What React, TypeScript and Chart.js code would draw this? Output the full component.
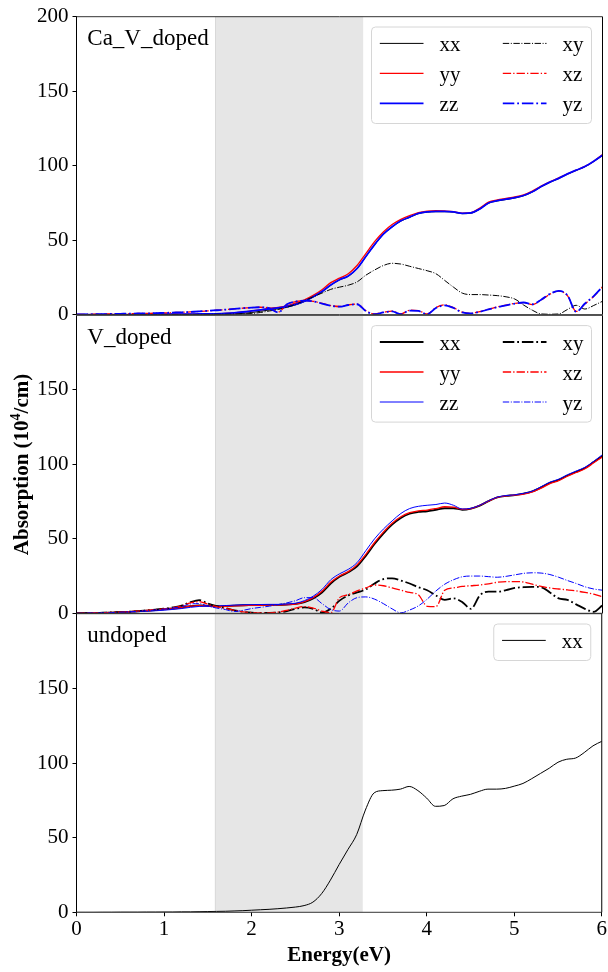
import React, { useEffect, useRef } from 'react';
import { Chart, registerables } from 'chart.js';
Chart.register(...registerables);

// ---------- data ----------
const energy = [
  0.0, 0.1, 0.2, 0.3, 0.4, 0.5, 0.6, 0.7, 0.8, 0.9,
  1.0, 1.1, 1.2, 1.3, 1.4, 1.5, 1.6, 1.7, 1.8, 1.9,
  2.0, 2.1, 2.2, 2.3, 2.4, 2.5, 2.6, 2.7, 2.8, 2.9,
  3.0, 3.1, 3.2, 3.3, 3.4, 3.5, 3.6, 3.7, 3.8, 3.9,
  4.0, 4.1, 4.2, 4.3, 4.4, 4.5, 4.6, 4.7, 4.8, 4.9,
  5.0, 5.1, 5.2, 5.3, 5.4, 5.5, 5.6, 5.7, 5.8, 5.9,
  6.0,
];

const bandStart = 1.58;
const bandEnd = 3.27;
const xTicks = [0, 1, 2, 3, 4, 5, 6];
const yTicks = [0, 50, 100, 150, 200];

// Ca_V_doped
const caV_xx = [
  0, 0, 0, 0, 0, 0, 0, 0, 0, 0,
  0, 0, 0.1, 0.1, 0.1, 0.2, 0.2, 0.3, 0.5, 0.9,
  1.5, 2.3, 3.2, 4, 5, 6.6, 8.8, 11.8, 15.3, 19.8,
  23.3, 25.8, 30.8, 38.8, 46.8, 53.8, 58.8, 62.8, 65.3, 67.8,
  68.8, 69.1, 69.1, 68.8, 67.8, 68.1, 70.8, 74.8, 76.3, 77.3,
  78.3, 79.8, 82.3, 85.8, 88.8, 91.3, 94.3, 96.8, 99.3, 102.8,
  106.8,
];
const caV_yy = [
  0, 0, 0, 0, 0, 0.1, 0.1, 0.1, 0.2, 0.2,
  0.3, 0.3, 0.4, 0.4, 0.5, 0.5, 0.6, 0.8, 1.2, 1.8,
  2.6, 3.3, 4.2, 4.9, 6, 7.8, 10, 13, 16.8, 21.5,
  24.5, 27.5, 33, 41, 49, 55.5, 60.5, 64, 66.5, 68.5,
  69.5, 69.8, 69.6, 69.2, 68.2, 68.5, 71.5, 75.5, 77, 78,
  79, 80.5, 83, 86.3, 89.2, 91.8, 94.5, 97, 99.5, 103,
  107.5,
];
const caV_zz = [
  0, 0, 0, 0, 0, 0.1, 0.1, 0.1, 0.2, 0.2,
  0.3, 0.3, 0.4, 0.4, 0.5, 0.5, 0.6, 0.8, 1.2, 1.8,
  2.5, 3.2, 4, 4.6, 5.5, 7, 9, 12, 15.5, 20,
  23.5, 26, 31, 39, 47, 54, 59, 63, 65.5, 68,
  69, 69.3, 69.3, 69, 68, 68.3, 71, 75, 76.5, 77.5,
  78.5, 80, 82.5, 86, 89, 91.5, 94.5, 97, 99.5, 103,
  107,
];
const caV_xy = [
  0, 0, 0, 0, 0, 0, 0, 0, 0.1, 0.1,
  0.1, 0.1, 0.1, 0.2, 0.2, 0.2, 0.3, 0.3, 0.4, 0.5,
  0.8, 1.5, 2.5, 3.5, 5, 7, 9.5, 12, 14.5, 17,
  18.5, 19.8, 22, 26.5, 30, 33, 34.5, 34, 32.5, 31,
  29.5, 27.5, 23, 18.5, 14.5, 13.5, 13.5, 13.2, 12.8, 12,
  10.5, 6.5, 3, 0.5, 0.3, 0.5, 3.5, 6.3, 3.8, 6.2,
  9,
];
const caV_xz = [
  0.2, 0.25, 0.3, 0.4, 0.5, 0.6, 0.7, 0.8, 0.9, 1.0,
  1.2, 1.4, 1.6, 1.9, 2.2, 2.6, 3.0, 3.4, 3.9, 4.4,
  4.8, 5.0, 4.5, 1.8, 6.8, 8.7, 9.4, 9.0, 7.6, 6.1,
  5.5, 6.6, 7.2, 2.7, 0.5, 1.6, 2.4, 0.5, 3.0, 2.7,
  0.5, 4.8, 6.6, 4.7, 1.7, 0.9, 2.1, 3.6, 5.2, 6.4,
  7.6, 8.1, 6.8, 9.8, 13.8, 15.8, 12.8, 2.2, 7.3, 12.3,
  18.6,
];
const caV_yz = [
  0.2, 0.25, 0.3, 0.4, 0.5, 0.6, 0.7, 0.8, 0.9, 1.0,
  1.2, 1.4, 1.6, 1.9, 2.2, 2.6, 3.0, 3.4, 3.9, 4.4,
  4.8, 5.0, 4.3, 1.5, 7.0, 8.8, 9.5, 9.0, 7.5, 6.0,
  5.4, 6.5, 7.0, 2.5, 0.3, 1.5, 2.2, 0.3, 2.8, 2.5,
  0.3, 4.5, 6.3, 4.5, 1.5, 0.8, 2.0, 3.5, 5.0, 6.3,
  7.5, 8.2, 7.0, 10.0, 14.0, 16.0, 13.0, 2.0, 7.5, 12.5,
  18.8,
];

// V_doped
const v_xx = [
  0, 0.1, 0.2, 0.3, 0.5, 0.7, 1, 1.3, 1.7, 2.1,
  2.6, 3.2, 3.9, 4.8, 5.3, 5, 4.7, 4.9, 5.2, 5.4,
  5.5, 5.6, 5.7, 5.7, 5.9, 6.3, 7.5, 10, 14, 20,
  24.5, 27.5, 31.5, 38.5, 46.5, 53.5, 59.5, 64, 66.8, 68,
  68.5, 69.5, 70.5, 70.5, 69.5, 70.3, 72.3, 75.3, 77.8, 78.8,
  79.3, 80.3, 81.8, 84.5, 87.5, 89.5, 92.5, 95, 97.5, 101.5,
  105.5,
];
const v_yy = [
  0, 0.1, 0.2, 0.3, 0.5, 0.7, 1, 1.3, 1.7, 2.1,
  2.6, 3.2, 3.9, 4.8, 5.2, 4.8, 4.5, 4.7, 5, 5.2,
  5.3, 5.4, 5.5, 5.6, 5.8, 6.2, 7.8, 10.5, 14.8, 20.8,
  25, 28, 32.5, 39.5, 47.5, 54.5, 60.5, 64.8, 67.5, 68.8,
  69.3, 70.3, 71.5, 71.2, 69.8, 70.3, 72.5, 75.3, 77.8, 78.8,
  79.3, 80, 81.5, 84, 87, 89, 92, 94.5, 97, 101,
  105,
];
const v_zz = [
  0, 0.1, 0.2, 0.3, 0.5, 0.7, 0.9, 1.1, 1.4, 1.7,
  2.1, 2.6, 3.2, 4, 4.6, 4.8, 4.9, 5.2, 5.5, 5.7,
  5.8, 5.9, 6, 6, 6.2, 6.8, 8.5, 11.5, 16, 22.5,
  26.5, 29.5, 34, 42, 50, 56.5, 62, 67, 70.3, 71.8,
  72.5, 73, 74, 72.5, 70, 70.5, 72.5, 75.5, 78, 79,
  79.5, 80.5, 82, 85, 88, 90, 93, 95.5, 98, 102,
  106.5,
];
const v_xy = [
  0, 0.1, 0.2, 0.4, 0.6, 0.8, 1.1, 1.5, 2, 2.5,
  3.1, 4, 5.2, 7.5, 8.8, 6.5, 4.8, 3.5, 2, 1,
  0.5, 0.3, 0.3, 0.5, 1.5, 3, 4, 3, 0.5, 3,
  8.5, 12, 14, 16, 20, 23, 23.5, 22, 20, 17.5,
  15.5, 12, 9, 10, 7.5, 3, 12, 14.5, 14.5, 15.5,
  17, 17.5, 17.8, 17.5, 14, 10, 9, 6, 3, 1,
  5.5,
];
const v_xz = [
  0, 0.1, 0.2, 0.4, 0.6, 0.8, 1.1, 1.5, 2, 2.5,
  3, 3.8, 5, 7, 7.8, 6, 4.5, 3.3, 2, 1,
  0.5, 0.3, 0.3, 0.8, 2, 3.5, 4.5, 3.5, 1.5, 0.3,
  10.5, 12.5, 15, 17, 19, 18.5, 17, 15.5, 14, 12.5,
  4.7, 4.5, 15.5, 17, 18, 18.5, 19, 19.8, 20.8, 21.3,
  21.3, 21, 19.5, 18, 17, 16.3, 15.7, 15, 14, 12.8,
  11,
];
const v_yz = [
  0, 0.1, 0.2, 0.3, 0.5, 0.7, 1, 1.3, 1.7, 2.2,
  2.8, 3.5, 4.5, 6.2, 6.5, 4.8, 3.5, 2.5, 1.2, 2,
  3.2, 4, 4.8, 5.8, 7, 8.5, 10.5, 10.5, 6.5, 2.5,
  1.5, 7, 10.5, 11, 9.5, 6.5, 3, 0.3, 2.2, 5,
  9.5, 15, 19.5, 22.5, 24.5, 25, 25, 24.6, 24.2, 24.8,
  25.8, 26.8, 27.2, 27, 26, 24.2, 22, 20, 17.8, 16.3,
  15.5,
];

// undoped
const un_xx = [
  0, 0, 0, 0.05, 0.05, 0.1, 0.1, 0.1, 0.15, 0.15,
  0.2, 0.2, 0.3, 0.3, 0.4, 0.5, 0.6, 0.7, 0.9, 1.1,
  1.4, 1.7, 2, 2.4, 2.9, 3.5, 4.5, 6.8, 12.5, 21.5,
  32, 42, 52, 68.5, 80, 81.5, 81.8, 82.5, 84.3, 81.5,
  76.5, 71, 71.5, 76, 77.8, 79, 81, 82.5, 82.5, 83,
  84.5, 86.3, 89.5, 93, 96.5, 100.5, 102.5, 103.3, 107, 111.5,
  114.5,
];

// ---------- styling ----------
const SERIF = "'Liberation Serif', 'Times New Roman', Times, serif";
const BLACK = '#000000';
const RED = '#ff0000';
const BLUE = '#0000ff';

type Series = { label: string; data: number[]; color: string; width: number; dashdot: boolean };
type Panel = {
  name: string;
  top: number;
  bottom: number;
  showX: boolean;
  maxTick: number;
  cols: number;
  titles: boolean;
  series: Series[];
};

const PANELS: Panel[] = [
  {
    name: 'Ca_V_doped', top: 16.7, bottom: 314.7, showX: false, maxTick: 200, cols: 2, titles: false,
    series: [
      { label: 'xx', data: caV_xx, color: BLACK, width: 1, dashdot: false },
      { label: 'yy', data: caV_yy, color: RED, width: 1.3, dashdot: false },
      { label: 'zz', data: caV_zz, color: BLUE, width: 1.8, dashdot: false },
      { label: 'xy', data: caV_xy, color: BLACK, width: 1, dashdot: true },
      { label: 'xz', data: caV_xz, color: RED, width: 1.3, dashdot: true },
      { label: 'yz', data: caV_yz, color: BLUE, width: 1.8, dashdot: true },
    ],
  },
  {
    name: 'V_doped', top: 315.3, bottom: 613.3, showX: false, maxTick: 150, cols: 2, titles: false,
    series: [
      { label: 'xx', data: v_xx, color: BLACK, width: 1.8, dashdot: false },
      { label: 'yy', data: v_yy, color: RED, width: 1.3, dashdot: false },
      { label: 'zz', data: v_zz, color: BLUE, width: 1, dashdot: false },
      { label: 'xy', data: v_xy, color: BLACK, width: 1.8, dashdot: true },
      { label: 'xz', data: v_xz, color: RED, width: 1.3, dashdot: true },
      { label: 'yz', data: v_yz, color: BLUE, width: 1, dashdot: true },
    ],
  },
  {
    name: 'undoped', top: 613.7, bottom: 912.3, showX: true, maxTick: 150, cols: 1, titles: true,
    series: [{ label: 'xx', data: un_xx, color: BLACK, width: 1, dashdot: false }],
  },
];

const W = 608;
const H = 972;
const AXIS_W = 76.5;
const X_AXIS_H = 40;

function dashFor(s: Series): number[] {
  return s.dashdot ? [6.4 * s.width, 1.6 * s.width, 1 * s.width, 1.6 * s.width] : [];
}

function makeOverlay(p: Panel) {
  return {
    id: 'overlay_' + p.name,
    beforeDatasetsDraw(chart: any) {
      const { ctx, chartArea: a, scales } = chart;
      const x0 = scales.x.getPixelForValue(bandStart);
      const x1 = scales.x.getPixelForValue(bandEnd);
      ctx.save();
      ctx.fillStyle = '#e6e6e6';
      ctx.fillRect(x0, a.top, x1 - x0, a.bottom - a.top);
      ctx.strokeStyle = 'rgba(0,0,0,0.06)';
      ctx.lineWidth = 1;
      ctx.beginPath();
      ctx.moveTo(x0 + 0.5, a.top);
      ctx.lineTo(x0 + 0.5, a.bottom);
      ctx.stroke();
      ctx.restore();
    },
    afterDatasetsDraw(chart: any) {
      const { ctx, chartArea: a } = chart;
      ctx.save();
      // frame
      ctx.strokeStyle = '#000';
      ctx.lineWidth = 1;
      ctx.beginPath();
      ctx.moveTo(a.left, a.top);
      ctx.lineTo(a.left, a.bottom);
      ctx.moveTo(a.right, a.top);
      ctx.lineTo(a.right, a.bottom);
      ctx.stroke();
      ctx.strokeStyle = '#333';
      ctx.beginPath();
      ctx.moveTo(a.left, a.top);
      ctx.lineTo(a.right, a.top);
      ctx.moveTo(a.left, a.bottom);
      ctx.lineTo(a.right, a.bottom);
      ctx.stroke();

      // panel label
      ctx.fillStyle = '#000';
      ctx.font = `23px ${SERIF}`;
      ctx.textAlign = 'left';
      ctx.textBaseline = 'alphabetic';
      ctx.fillText(p.name, a.left + 10.8, a.top + 28.5);

      // legend
      const n = p.series.length;
      const rows = Math.ceil(n / p.cols);
      const boxW = p.cols === 2 ? 220 : 97;
      const boxH = 6.5 + 30 * rows;
      const bx = a.right - 11 - boxW;
      const by = a.top + 10.3;
      ctx.beginPath();
      const r = 4;
      ctx.moveTo(bx + r, by);
      ctx.lineTo(bx + boxW - r, by);
      ctx.quadraticCurveTo(bx + boxW, by, bx + boxW, by + r);
      ctx.lineTo(bx + boxW, by + boxH - r);
      ctx.quadraticCurveTo(bx + boxW, by + boxH, bx + boxW - r, by + boxH);
      ctx.lineTo(bx + r, by + boxH);
      ctx.quadraticCurveTo(bx, by + boxH, bx, by + boxH - r);
      ctx.lineTo(bx, by + r);
      ctx.quadraticCurveTo(bx, by, bx + r, by);
      ctx.closePath();
      ctx.fillStyle = 'rgba(255,255,255,0.8)';
      ctx.fill();
      ctx.strokeStyle = '#d6d6d6';
      ctx.lineWidth = 1;
      ctx.stroke();
      ctx.font = `21px ${SERIF}`;
      p.series.forEach((s, i) => {
        const col = Math.floor(i / rows);
        const row = i % rows;
        const lx = bx + 8.3 + col * 123;
        const ly = by + 16.4 + row * 30;
        ctx.strokeStyle = s.color;
        ctx.lineWidth = s.width;
        ctx.setLineDash(dashFor(s));
        ctx.beginPath();
        ctx.moveTo(lx, ly);
        ctx.lineTo(lx + 43.7, ly);
        ctx.stroke();
        ctx.setLineDash([]);
        ctx.fillStyle = '#000';
        ctx.fillText(s.label, lx + 59.8, ly + 8);
      });

      // axis titles
      if (p.titles) {
        ctx.fillStyle = '#000';
        ctx.font = `bold 21px ${SERIF}`;
        ctx.textAlign = 'center';
        ctx.textBaseline = 'alphabetic';
        ctx.fillText('Energy(eV)', (a.left + a.right) / 2, 961);

        const big = `bold 21px ${SERIF}`;
        const small = `bold 14px ${SERIF}`;
        const p1 = 'Absorption (10';
        const p2 = '4';
        const p3 = '/cm)';
        ctx.font = big;
        const w1 = ctx.measureText(p1).width;
        const w3 = ctx.measureText(p3).width;
        ctx.font = small;
        const w2 = ctx.measureText(p2).width;
        const total = w1 + w2 + w3;
        ctx.translate(27.5, (16.7 + 912.3) / 2);
        ctx.rotate(-Math.PI / 2);
        ctx.textAlign = 'left';
        let cx = -total / 2;
        ctx.font = big;
        ctx.fillText(p1, cx, 0);
        cx += w1;
        ctx.font = small;
        ctx.fillText(p2, cx, -8);
        cx += w2;
        ctx.font = big;
        ctx.fillText(p3, cx, 0);
      }
      ctx.restore();
    },
  };
}

function makeConfig(p: Panel): any {
  const n = p.series.length;
  return {
    type: 'line',
    data: {
      datasets: p.series.map((s, i) => ({
        label: s.label,
        data: energy.map((e, k) => ({ x: e, y: s.data[k] })),
        borderColor: s.color,
        borderWidth: s.width,
        borderDash: dashFor(s),
        pointRadius: 0,
        fill: false,
        cubicInterpolationMode: 'monotone',
        order: n - i,
      })),
    },
    options: {
      responsive: false,
      animation: false,
      events: [],
      layout: {
        padding: {
          left: 0,
          right: W - 602.5,
          top: p.top,
          bottom: H - p.bottom - (p.showX ? X_AXIS_H : 0),
        },
      },
      plugins: { legend: { display: false }, tooltip: { enabled: false } },
      scales: {
        x: {
          type: 'linear',
          min: 0,
          max: 6,
          afterBuildTicks: (s: any) => {
            s.ticks = xTicks.map((v) => ({ value: v }));
          },
          afterFit: (s: any) => {
            s.height = p.showX ? X_AXIS_H : 0;
          },
          ticks: {
            display: p.showX,
            color: '#000',
            padding: 1,
            maxRotation: 0,
            font: { family: SERIF, size: 21 },
          },
          grid: {
            display: p.showX,
            drawOnChartArea: false,
            drawTicks: true,
            tickLength: 4,
            tickColor: '#000',
            color: '#000',
          },
          border: { display: false },
        },
        y: {
          type: 'linear',
          min: 0,
          max: 200,
          afterBuildTicks: (s: any) => {
            s.ticks = yTicks.filter((v) => v <= p.maxTick).map((v) => ({ value: v }));
          },
          afterFit: (s: any) => {
            s.width = AXIS_W;
          },
          ticks: {
            color: '#000',
            padding: 4,
            font: { family: SERIF, size: 21 },
          },
          grid: {
            drawOnChartArea: false,
            drawTicks: true,
            tickLength: 4,
            tickColor: '#000',
            color: '#000',
          },
          border: { display: false },
        },
      },
    },
    plugins: [makeOverlay(p)],
  };
}

function PanelChart({ p }: { p: Panel }) {
  const ref = useRef<HTMLCanvasElement>(null);
  useEffect(() => {
    const chart = new Chart(ref.current as HTMLCanvasElement, makeConfig(p));
    return () => chart.destroy();
  }, [p]);
  return (
    <canvas
      ref={ref}
      width={W}
      height={H}
      style={{ position: 'absolute', left: 0, top: 0, width: W, height: H }}
    />
  );
}

export default function App() {
  return (
    <div style={{ position: 'fixed', left: 0, top: 0, width: W, height: H, background: '#ffffff' }}>
      {PANELS.map((p) => (
        <PanelChart key={p.name} p={p} />
      ))}
    </div>
  );
}
